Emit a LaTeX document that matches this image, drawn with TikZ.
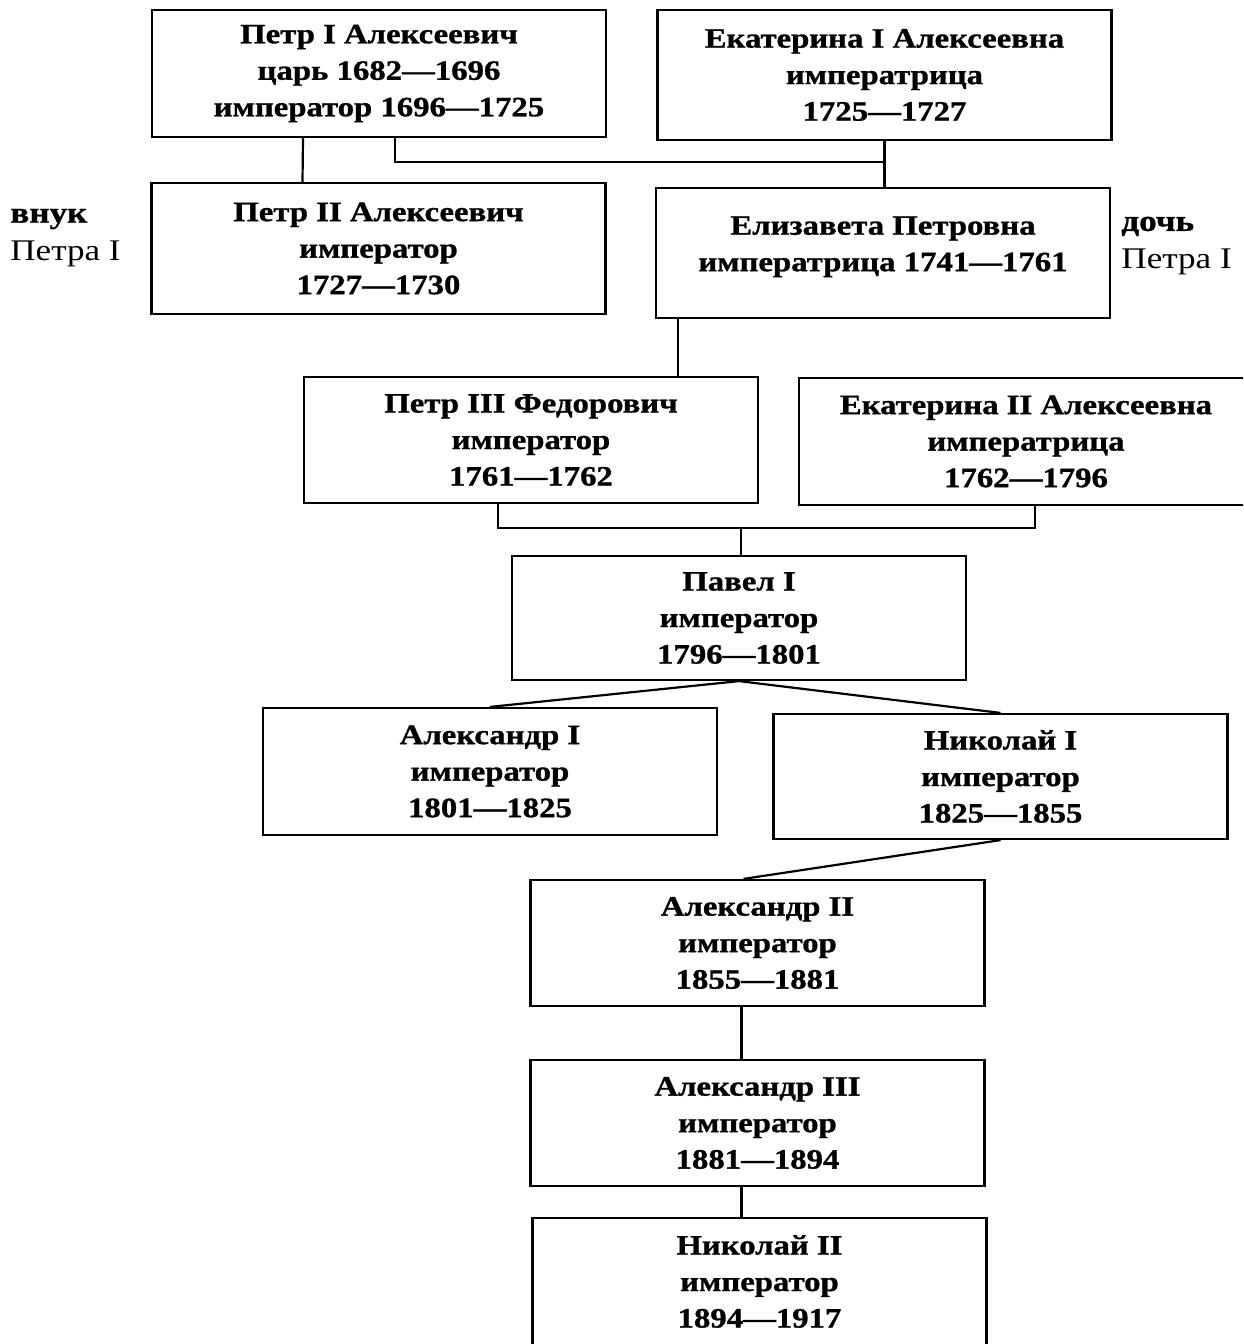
\documentclass[tikz,border=0pt]{standalone}
\usepackage{fontspec}
\setmainfont{Liberation Serif}[FakeStretch=1.17, BoldFeatures={FakeBold=1}]
\begin{document}
\begin{tikzpicture}[x=0.5pt,y=-0.5pt]
    \tikzstyle{ruler}=[
        draw,
        shape=rectangle,
        line width=1.1pt,
        align=center,
        inner sep=0pt,
        minimum width=227pt,
        minimum height=63.5pt,
        font=\fontsize{14}{18.25}\selectfont\bfseries]
    \tikzstyle{link}=[line width=1.1pt]
    \tikzstyle{side}=[align=left, anchor=west, inner sep=0pt,
        font=\fontsize{15}{19}\selectfont]

    \useasboundingbox (0,0) rectangle (1243,1344);
    \clip (0,0) rectangle (1243,1344);
    \node[ruler] (p1) at (379,73.5) {Петр I Алексеевич\\царь 1682---1696\\император 1696---1725};
    \node[ruler, minimum height=65pt] (e1) at (884.5,75) {Екатерина I Алексеевна\\императрица\\1725---1727};
    \node[ruler, minimum height=65.5pt] (p2) at (378.5,248.5) {Петр II Алексеевич\\император\\1727---1730};
    \node[ruler, minimum height=65pt] (el) at (883,253) {Елизавета Петровна\\императрица 1741---1761\\[-9pt]\mbox{}};
    \node[ruler, minimum height=63pt] (p3) at (531,440) {Петр III Федорович\\император\\1761---1762};
    \node[ruler] (e2) at (1026,441.5) {Екатерина II Алексеевна\\императрица\\1762---1796};
    \node[ruler, minimum height=62pt] (pv) at (739,618) {Павел I\\император\\1796---1801};
    \node[ruler] (a1) at (490,771.5) {Александр I\\император\\1801---1825};
    \node[ruler, minimum height=62.5pt] (nk1) at (1000.5,776.5) {Николай I\\император\\1825---1855};
    \node[ruler, minimum height=63pt] (a2) at (757.5,943) {Александр II\\император\\1855---1881};
    \node[ruler, minimum height=63pt] (a3) at (757.5,1123) {Александр III\\император\\1881---1894};
    \node[ruler] (nk2) at (759.5,1281.5) {Николай II\\император\\1894---1917};
    \node[side] (vn) at (10,238) {\textbf{внук}\\Петра I};
    \node[side] (dc) at (1121,246) {\textbf{дочь}\\Петра I};

    % ties between the boxes
    \coordinate (j1) at (884.5,162);
    \coordinate (j2) at (741,528);
    \draw[link] ([xshift=-38pt]p1.south) -- ([xshift=-38pt]p2.north);
    \draw[link] ([xshift=8pt]p1.south) |- (j1);
    \draw[link] (e1.south) -- (e1.south |- el.north);
    \draw[link] ([xshift=-102.5pt]el.south) -- ([xshift=-102.5pt]el.south |- p3.north);
    \draw[link] ([xshift=-16.5pt]p3.south) |- (j2) -| ([xshift=4.5pt]e2.south);
    \draw[link] (j2) -- (j2 |- pv.north);
    \draw[link] (a1.north) -- (pv.south) -- (nk1.north);
    \draw[link] (nk1.south) -- ([xshift=-7pt]a2.north);
    \draw[link] ([xshift=-8pt]a2.south) -- ([xshift=-8pt]a3.north);
    \draw[link] ([xshift=-8pt]a3.south) -- ([xshift=-9pt]nk2.north);
\end{tikzpicture}
\end{document}
